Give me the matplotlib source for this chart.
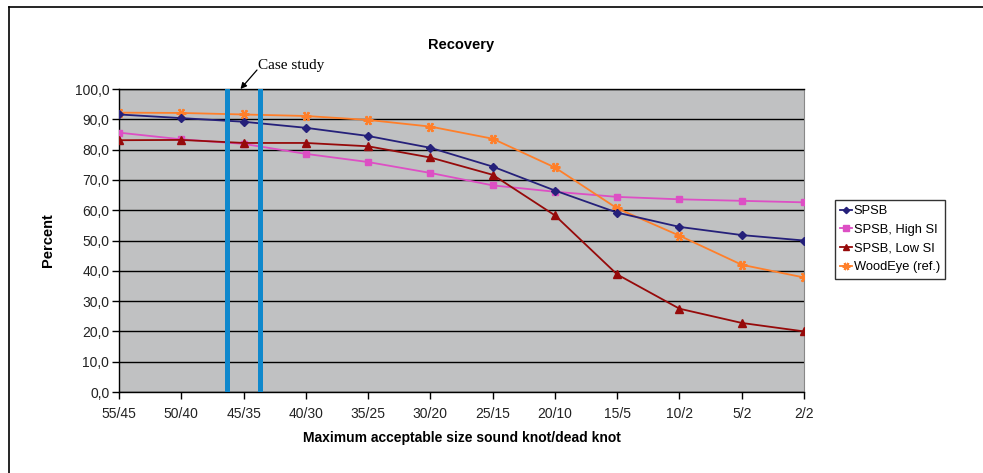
import matplotlib
matplotlib.use('Agg')
import matplotlib.pyplot as plt
from matplotlib.lines import Line2D

plt.rcParams['font.family'] = ['Liberation Sans', 'DejaVu Sans']

categories = ['55/45', '50/40', '45/35', '40/30', '35/25', '30/20',
              '25/15', '20/10', '15/5', '10/2', '5/2', '2/2']
spsb = [91.6, 90.4, 89.2, 87.2, 84.5, 80.6, 74.4, 66.5, 59.2, 54.5, 51.8, 50.0]
spsb_high = [85.6, 83.4, 81.9, 78.6, 75.9, 72.3, 68.2, 66.1, 64.4, 63.6, 63.1, 62.6]
spsb_low = [83.1, 83.2, 82.2, 82.2, 81.1, 77.4, 71.7, 58.3, 38.8, 27.5, 22.8, 20.0]
woodeye = [92.2, 92.1, 91.6, 91.1, 89.8, 87.6, 83.6, 74.1, 60.6, 51.6, 42.0, 37.8]
yticks = [0, 10, 20, 30, 40, 50, 60, 70, 80, 90, 100]
case_study = '45/35'

fig = plt.figure(figsize=(9.83, 4.73), dpi=100)
ax = fig.add_axes([0.1211, 0.1712, 0.6968, 0.6406])
ax.set_facecolor('#c0c1c2')

x = list(range(len(categories)))
ax.plot(x, spsb, color='#25207a', marker='D', ms=4, lw=1.3, label='SPSB', zorder=4)
ax.plot(x, spsb_high, color='#dd4fc4', marker='s', ms=5, lw=1.3, label='SPSB, High SI', zorder=3)
ax.plot(x, spsb_low, color='#960a0a', marker='^', ms=5.5, lw=1.3, label='SPSB, Low SI', zorder=3)
ax.plot(x, woodeye, color='#ff7f2a', marker=(6, 2, 90), ms=7, mew=1.6, lw=1.3,
        label='WoodEye (ref.)', zorder=3)

# case study band around 45/35
ci = categories.index(case_study)
for xv in (ci - 0.26, ci + 0.26):
    ax.axvline(xv, color='#0f88cc', lw=3.6, zorder=5)

ax.set_xlim(0, len(categories) - 1)
ax.set_ylim(0, 100)
ax.set_xticks(x)
ax.set_xticklabels(categories, fontsize=10, color='#222222')
ax.set_yticks(yticks)
ax.set_yticklabels([f'{v:.1f}'.replace('.', ',') for v in yticks], fontsize=10, color='#222222')
ax.tick_params(axis='both', direction='out', length=5, width=1, color='black')
ax.tick_params(axis='x', pad=6)
ax.tick_params(axis='y', pad=2)
ax.grid(axis='y', color='black', lw=1)
ax.set_axisbelow(True)
for side in ('left', 'bottom', 'top'):
    ax.spines[side].set_color('black')
    ax.spines[side].set_linewidth(1)
ax.spines['right'].set_color('#888888')

ax.set_title('Recovery', fontsize=10.5, fontweight='bold', pad=29)
ax.set_xlabel('Maximum acceptable size sound knot/dead knot', fontsize=10,
              fontweight='bold', labelpad=7)
ax.set_ylabel('Percent', fontsize=10.5, fontweight='bold', labelpad=14)

# label and arrow pointing at the top of the band
fig.text(258, 408, 'Case study', transform=None, fontsize=11,
         family=['Liberation Serif', 'DejaVu Serif'], va='center', ha='left')
ax.annotate('', xy=(ci - 0.05, 100), xycoords='data',
            xytext=(257, 403), textcoords='figure pixels',
            arrowprops=dict(arrowstyle='-|>', color='black', lw=0.9,
                            mutation_scale=9, shrinkA=0, shrinkB=0))

leg = ax.legend(loc='upper left', bbox_to_anchor=(835 / 983, 1 - 200 / 473),
                bbox_transform=fig.transFigure, fontsize=9.3, frameon=True,
                fancybox=False, edgecolor='black', handlelength=0.9,
                handletextpad=0.15, labelspacing=0.52, borderpad=0.4,
                borderaxespad=0, markerscale=0.8)
leg.get_frame().set_linewidth(1)

# outer frame (top and left edges)
fig.add_artist(Line2D([9 / 983, 1], [1 - 7 / 473, 1 - 7 / 473],
                      transform=fig.transFigure, color='black', lw=1.2))
fig.add_artist(Line2D([9 / 983, 9 / 983], [0, 1 - 7 / 473],
                      transform=fig.transFigure, color='black', lw=1.2))

fig.savefig('out.png', dpi=100)
